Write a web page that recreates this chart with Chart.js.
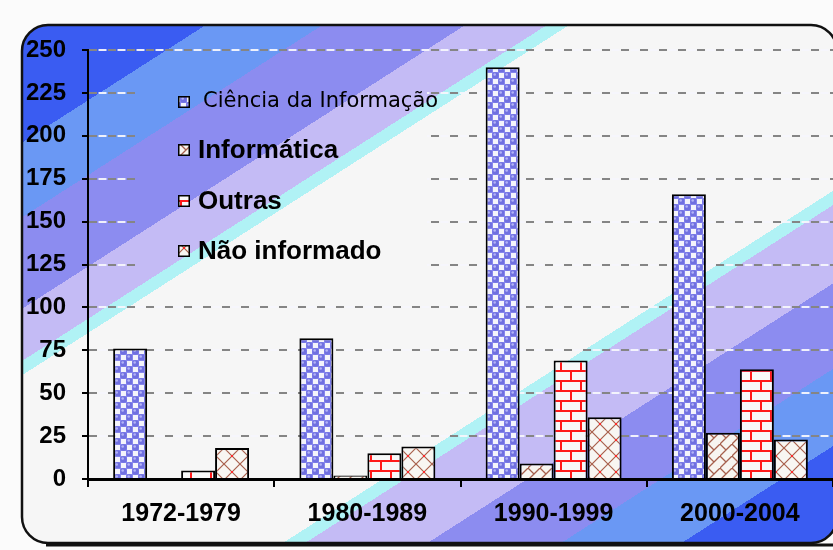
<!DOCTYPE html>
<html>
<head>
<meta charset="utf-8">
<script src="https://cdn.jsdelivr.net/npm/chart.js@4.4.1/dist/chart.umd.min.js"></script>
<style>
  html, body { margin: 0; padding: 0; background: #fff; }
  #wrap { width: 833px; height: 550px; }
</style>
</head>
<body>
<div id="wrap"><canvas id="chart" width="833" height="550"></canvas></div>
<script>
// data
const periods = ['1972-1979', '1980-1989', '1990-1999', '2000-2004'];
const seriesNames = ['Ciência da Informação', 'Informática', 'Outras', 'Não informado'];
const cienciaInfo = [76, 82, 240, 166];
const informatica = [0, 2, 9, 27];
const outras = [5, 15, 69, 64];
const naoInformado = [18, 19, 36, 23];
const yMax = 250;
const yStep = 25;

const canvas = document.getElementById('chart');
const mainCtx = canvas.getContext('2d');

function makeTile(w, h, draw) {
  const c = document.createElement('canvas');
  c.width = w;
  c.height = h;
  draw(c.getContext('2d'));
  return mainCtx.createPattern(c, 'repeat');
}

// blue balls on a checker
const ballFill = makeTile(12, 12, (g) => {
  g.fillStyle = '#8686ec';
  g.fillRect(0, 0, 12, 12);
  g.fillStyle = '#f4f4fb';
  g.fillRect(7, 1, 5, 5);
  g.fillRect(1, 7, 5, 5);
  [[3.5, 3.5], [9.5, 9.5]].forEach(([x, y]) => {
    g.fillStyle = '#7070e0';
    g.beginPath(); g.arc(x, y, 3.2, 0, Math.PI * 2); g.fill();
    g.fillStyle = '#b4b4f6';
    g.beginPath(); g.arc(x - 0.8, y - 1, 1.3, 0, Math.PI * 2); g.fill();
  });
});

// diagonal brick, brown
const diagFill = makeTile(12, 12, (g) => {
  g.fillStyle = '#f7f5f0';
  g.fillRect(0, 0, 12, 12);
  g.strokeStyle = '#a5604c';
  g.lineWidth = 1.3;
  g.beginPath();
  g.moveTo(-1, 13); g.lineTo(13, -1);
  g.moveTo(0, 0); g.lineTo(6, 6);
  g.stroke();
});

// red bricks
const brickFill = makeTile(20, 20, (g) => {
  g.fillStyle = '#f8f8f8';
  g.fillRect(0, 0, 20, 20);
  g.fillStyle = '#ff1a1a';
  g.fillRect(0, 0, 20, 2);
  g.fillRect(0, 10, 20, 2);
  g.fillRect(0, 0, 2, 10);
  g.fillRect(10, 10, 2, 10);
});

// cross hatch with red knots
const crossFill = makeTile(16, 16, (g) => {
  g.fillStyle = '#f8f6f2';
  g.fillRect(0, 0, 16, 16);
  g.strokeStyle = '#a8604c';
  g.lineWidth = 1.2;
  g.beginPath();
  g.moveTo(0, 0); g.lineTo(16, 16);
  g.moveTo(16, 0); g.lineTo(0, 16);
  g.stroke();
  g.fillStyle = '#ff2a2a';
  g.fillRect(7, 7, 2, 2);
});

// diagonal colour bands of the backdrop (distance along the band normal)
const bands = [
  [0, '#3a5cf2'], [132, '#6a98f4'], [195, '#8c8cf0'], [272, '#c4bbf5'],
  [316, '#b0f2f5'], [328, '#f6f6f6'], [610, '#b0f2f5'], [622, '#c4bbf5'],
  [688, '#8c8cf0'], [760, '#6a98f4'], [825, '#3a5cf2']
];

function bandGradient(ctx) {
  const g = ctx.createLinearGradient(0, 0, 539, 842);
  bands.forEach(([d, c], i) => {
    const end = i + 1 < bands.length ? bands[i + 1][0] : 1000;
    g.addColorStop(d / 1000, c);
    g.addColorStop(end / 1000, c);
  });
  return g;
}

function framePath(ctx) {
  const x0 = 22, y0 = 25, x1 = 837, y1 = 543, r = 26;
  ctx.beginPath();
  ctx.moveTo(x0 + r, y0);
  ctx.lineTo(x1 - r, y0);
  ctx.arcTo(x1, y0, x1, y0 + r, r);
  ctx.lineTo(x1, y1 - r);
  ctx.arcTo(x1, y1, x1 - r, y1, r);
  ctx.lineTo(x0 + r, y1);
  ctx.arcTo(x0, y1, x0, y1 - r, r);
  ctx.lineTo(x0, y0 + r);
  ctx.arcTo(x0, y0, x0 + r, y0, r);
  ctx.closePath();
}

const legendBox = { x: 135, y: 70, w: 292, h: 215 };
const legendRows = [102, 150, 201, 251];

const backdrop = {
  id: 'backdrop',
  beforeDraw(chart) {
    const ctx = chart.ctx;
    ctx.save();
    ctx.fillStyle = '#fbfbfb';
    ctx.fillRect(0, 0, chart.width, chart.height);
    framePath(ctx);
    ctx.fillStyle = bandGradient(ctx);
    ctx.fill();
    ctx.lineWidth = 2.5;
    ctx.strokeStyle = '#111';
    ctx.stroke();
    ctx.beginPath();
    ctx.moveTo(46, 545);
    ctx.lineTo(833, 545);
    ctx.lineWidth = 3;
    ctx.stroke();
    ctx.restore();
  },
  beforeDatasetsDraw(chart) {
    const { ctx, chartArea, scales: { y } } = chart;
    ctx.save();
    // light dashes between the grey ones
    ctx.strokeStyle = 'rgba(246,246,252,0.95)';
    ctx.lineWidth = 2;
    ctx.setLineDash([8, 11]);
    ctx.lineDashOffset = -9.5;
    y.ticks.forEach((t) => {
      if (t.value === 0) return;
      const py = Math.round(y.getPixelForValue(t.value));
      ctx.beginPath();
      ctx.moveTo(chartArea.left + 1, py);
      ctx.lineTo(chartArea.right, py);
      ctx.stroke();
    });
    ctx.setLineDash([]);
    // legend box hides the grid behind it
    ctx.beginPath();
    ctx.rect(legendBox.x, legendBox.y, legendBox.w, legendBox.h);
    ctx.clip();
    ctx.fillStyle = bandGradient(ctx);
    ctx.fillRect(legendBox.x, legendBox.y, legendBox.w, legendBox.h);
    ctx.restore();
  },
  afterDraw(chart) {
    const ctx = chart.ctx;
    ctx.save();
    chart.data.datasets.forEach((ds, i) => {
      const cy = legendRows[i];
      ctx.fillStyle = ds.backgroundColor;
      ctx.fillRect(178, cy - 6, 12, 12);
      ctx.strokeStyle = '#000';
      ctx.lineWidth = 1.5;
      ctx.strokeRect(178.75, cy - 5.25, 10.5, 10.5);
      ctx.fillStyle = '#000';
      ctx.textBaseline = 'middle';
      if (i === 0) {
        ctx.font = '21px "DejaVu Sans", sans-serif';
        ctx.fillText(ds.label, 203, cy);
      } else {
        ctx.font = 'bold 26px "Liberation Sans", Arial, sans-serif';
        ctx.fillText(ds.label, 198, cy + 1);
      }
    });
    ctx.restore();
  }
};

const tickFont = { family: '"Liberation Sans", Arial, sans-serif', weight: 'bold' };

new Chart(canvas, {
  type: 'bar',
  data: {
    labels: periods,
    datasets: [
      { label: seriesNames[0], data: cienciaInfo, backgroundColor: ballFill },
      { label: seriesNames[1], data: informatica, backgroundColor: diagFill },
      { label: seriesNames[2], data: outras, backgroundColor: brickFill },
      { label: seriesNames[3], data: naoInformado, backgroundColor: crossFill }
    ]
  },
  options: {
    responsive: false,
    animation: false,
    layout: { padding: { left: 22, top: 50, right: 0, bottom: 21 } },
    datasets: {
      bar: { categoryPercentage: 0.73, barPercentage: 1, borderColor: '#000', borderWidth: 2 }
    },
    plugins: { legend: { display: false }, tooltip: { enabled: false } },
    scales: {
      x: {
        grid: { display: true, drawOnChartArea: false, drawTicks: true, tickLength: 8, color: '#000', lineWidth: 2, offset: true },
        border: { color: '#000', width: 3 },
        ticks: { color: '#000', font: { ...tickFont, size: 25 }, padding: 12, maxRotation: 0 },
        afterFit: (s) => { s.height = 50; }
      },
      y: {
        min: 0,
        max: yMax,
        ticks: { stepSize: yStep, color: '#000', font: { ...tickFont, size: 24 }, padding: 16 },
        grid: {
          color: (c) => (c.tick && c.tick.value === 0 ? 'rgba(0,0,0,0)' : '#858585'),
          lineWidth: 2,
          tickColor: '#000',
          tickLength: 6
        },
        border: { color: '#000', width: 2, dash: [8, 11] },
        afterFit: (s) => { s.width = 66; }
      }
    }
  },
  plugins: [backdrop]
});
</script>
</body>
</html>
